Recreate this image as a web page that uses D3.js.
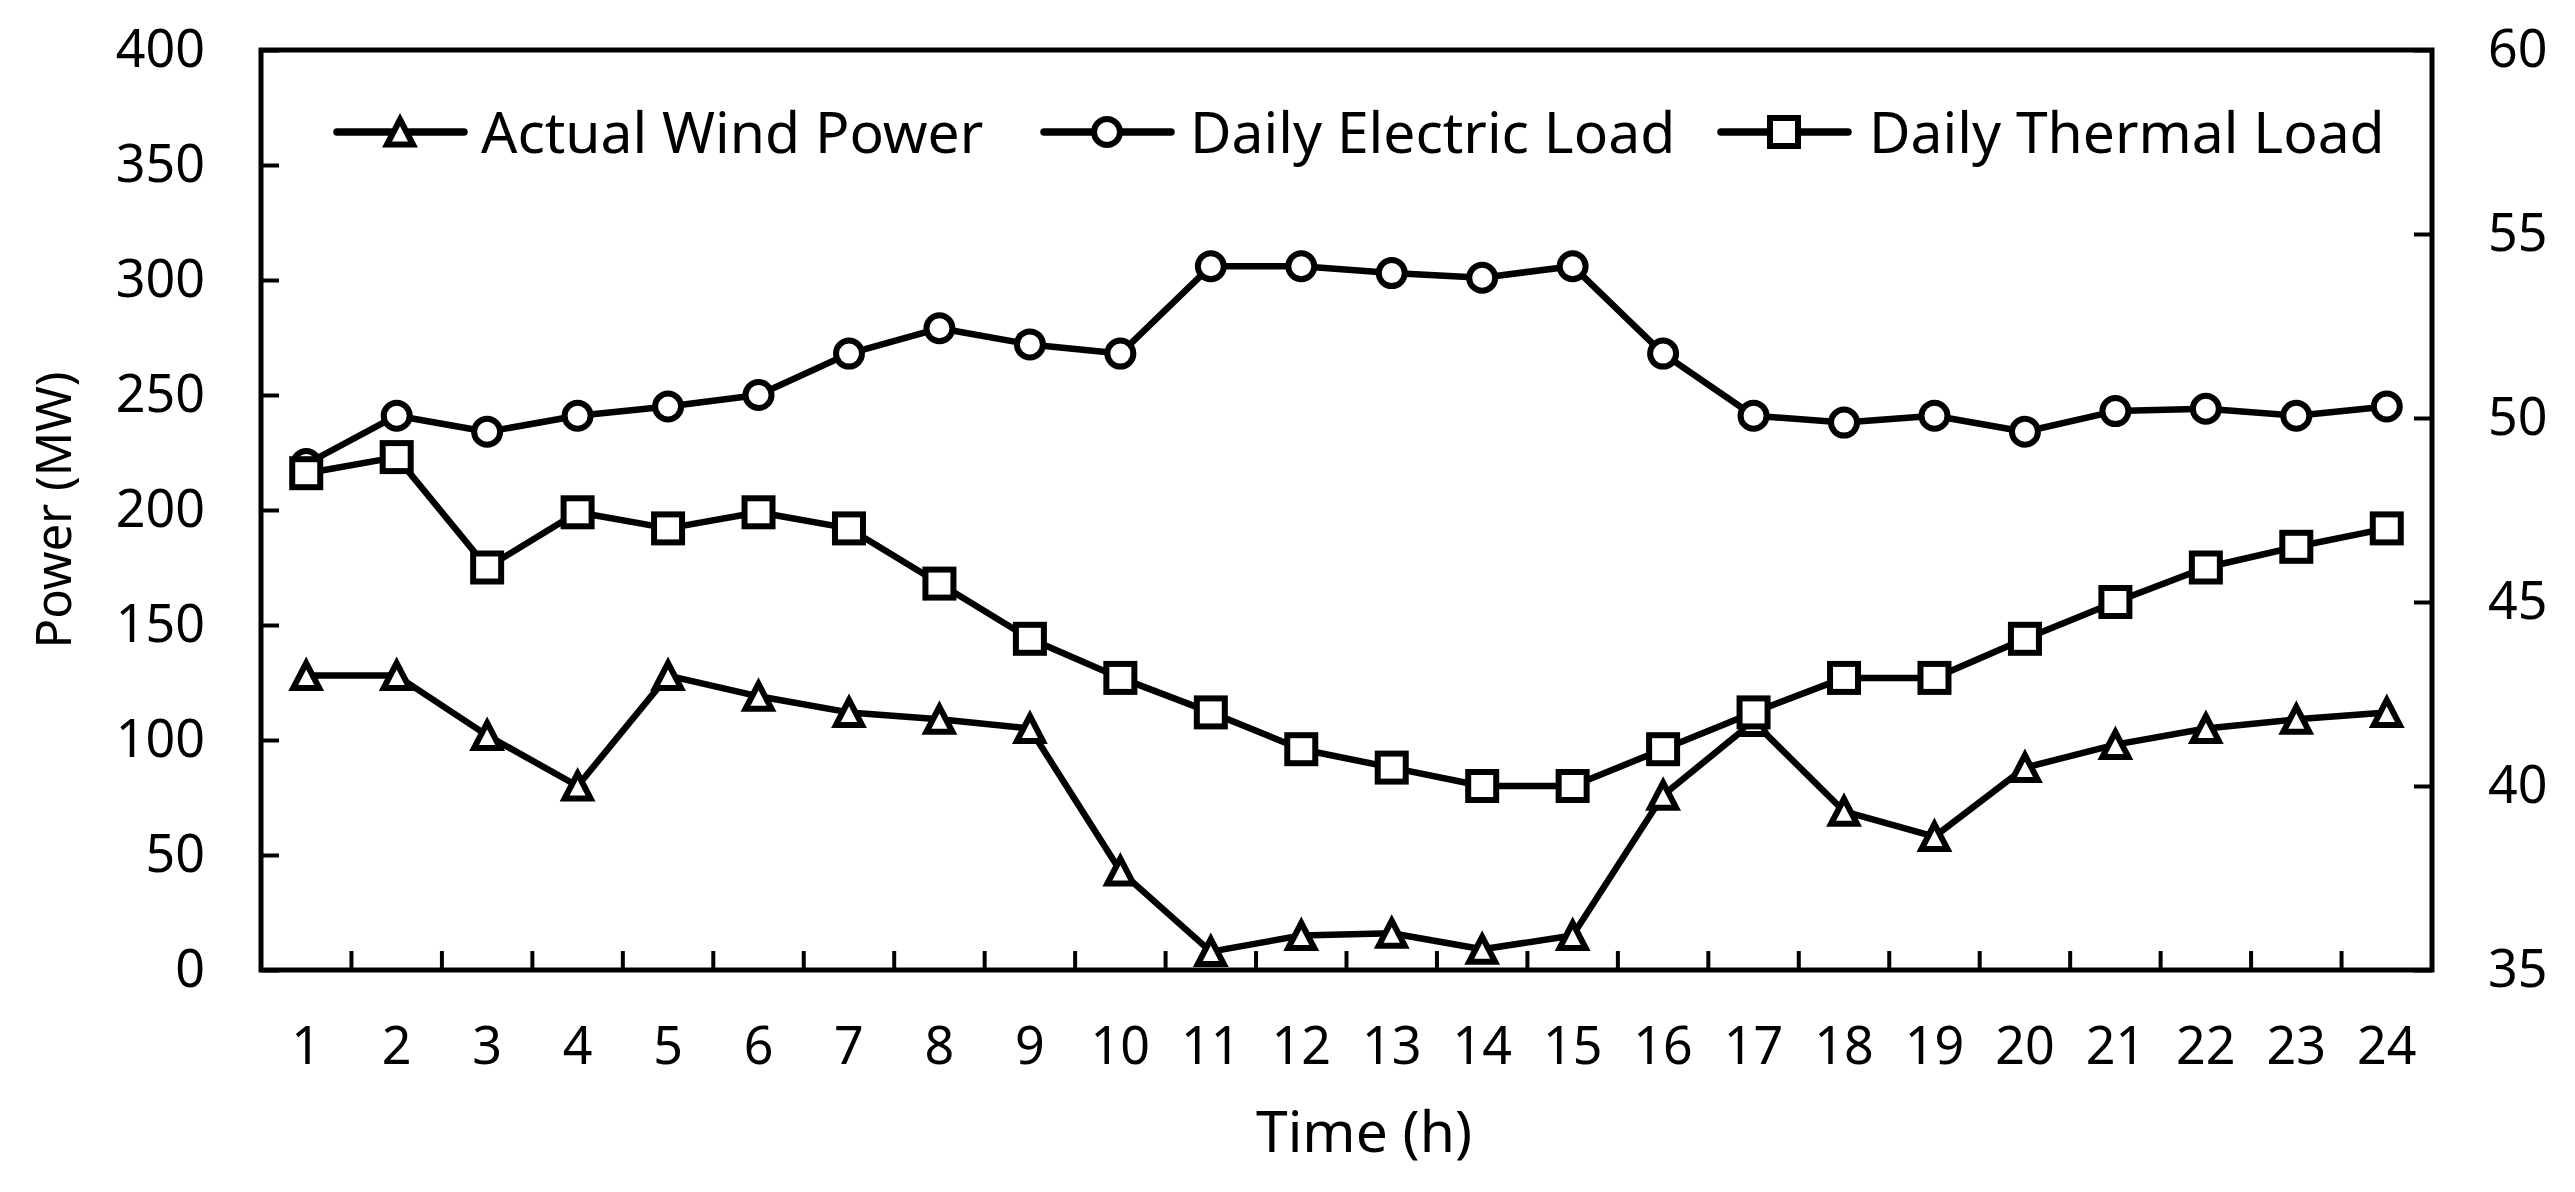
<!DOCTYPE html>
<html>
<head>
<meta charset="utf-8">
<script src="https://cdn.jsdelivr.net/npm/d3@7"></script>
<style>
  html, body { margin: 0; padding: 0; background: #fff; }
  svg { display: block; }
  text { font-family: "Noto Sans", sans-serif; fill: #000; }
</style>
</head>
<body>
<svg id="svg"></svg>
<script>
/**
 * CONSTANTS AND GLOBALS
 * */
const width = 2575,
  height = 1192,
  margin = { top: 50, bottom: 222, left: 261, right: 143 };

// hours on the x axis
const hours = [1, 2, 3, 4, 5, 6, 7, 8, 9, 10, 11, 12,
  13, 14, 15, 16, 17, 18, 19, 20, 21, 22, 23, 24];

// series values (MW)
const windPower = [128, 128, 102, 80, 128, 119, 112, 109, 105, 43, 8, 15,
  16, 9, 15, 76, 108, 69, 58, 88, 98, 105, 109, 112];
const electricLoad = [220, 241, 234, 241, 245, 250, 268, 279, 272, 268, 306, 306,
  303, 301, 306, 268, 241, 238, 241, 234, 243, 244, 241, 245];
const thermalLoad = [216, 223, 175, 199, 192, 199, 192, 168, 144, 127, 112, 96,
  88, 80, 80, 96, 112, 127, 127, 144, 160, 175, 184, 192];

// tick labels
const leftTicks = [0, 50, 100, 150, 200, 250, 300, 350, 400];
const rightTicks = [35, 40, 45, 50, 55, 60];

const seriesNames = ["Actual Wind Power", "Daily Electric Load", "Daily Thermal Load"];
const seriesMarkers = ["triangle", "circle", "square"];

/**
 * SCALES
 * */
const plotLeft = margin.left,
  plotRight = width - margin.right,
  plotTop = margin.top,
  plotBottom = height - margin.bottom;

const xScale = d3.scaleBand()
  .domain(hours)
  .range([plotLeft, plotRight])
  .padding(0);

const yScale = d3.scaleLinear()
  .domain([0, 400])
  .range([plotBottom, plotTop]);

const yRight = d3.scaleLinear()
  .domain([35, 60])
  .range([plotBottom, plotTop]);

const xMid = d => xScale(d) + xScale.bandwidth() / 2;

/**
 * DRAW
 * */
const svg = d3.select("#svg")
  .attr("width", width)
  .attr("height", height);

// left axis, ticks pointing into the plot
const leftAxis = svg.append("g")
  .attr("transform", `translate(${plotLeft},0)`)
  .call(d3.axisLeft(yScale).tickValues(leftTicks).tickSizeInner(-18).tickSizeOuter(0).tickPadding(56));

// right axis, ticks pointing into the plot
const rightAxis = svg.append("g")
  .attr("transform", `translate(${plotRight},0)`)
  .call(d3.axisRight(yRight).tickValues(rightTicks).tickSizeInner(-18).tickSizeOuter(0).tickPadding(56));

// bottom labels at band centres
const bottomAxis = svg.append("g")
  .attr("transform", `translate(0,${plotBottom})`)
  .call(d3.axisBottom(xScale).tickSize(0).tickPadding(57));

[leftAxis, rightAxis, bottomAxis].forEach(g => {
  g.select(".domain").remove();
  g.selectAll(".tick line").attr("stroke", "#000").attr("stroke-width", 4);
  g.selectAll(".tick text")
    .style("font-family", "'Noto Sans', sans-serif")
    .style("font-size", "52px")
    .attr("fill", "#000");
});

// x ticks at the band boundaries, pointing up
svg.append("g")
  .selectAll("line")
  .data(hours.slice(1))
  .join("line")
  .attr("x1", d => xScale(d))
  .attr("x2", d => xScale(d))
  .attr("y1", plotBottom)
  .attr("y2", plotBottom - 19)
  .attr("stroke", "#000")
  .attr("stroke-width", 4);

// plot frame
svg.append("rect")
  .attr("x", plotLeft)
  .attr("y", plotTop)
  .attr("width", plotRight - plotLeft)
  .attr("height", plotBottom - plotTop)
  .attr("fill", "none")
  .attr("stroke", "#000")
  .attr("stroke-width", 5);

// axis titles
svg.append("text")
  .attr("transform", `translate(71,${(plotTop + plotBottom) / 2}) rotate(-90)`)
  .attr("text-anchor", "middle")
  .style("font-size", "49px")
  .text("Power (MW)");

svg.append("text")
  .attr("x", 1364)
  .attr("y", 1152)
  .attr("text-anchor", "middle")
  .style("font-size", "57px")
  .text("Time (h)");

// marker shapes
function drawMarker(sel, kind) {
  if (kind === "circle") {
    sel.append("circle").attr("r", 13);
  } else if (kind === "square") {
    sel.append("rect").attr("x", -14).attr("y", -14).attr("width", 28).attr("height", 28);
  } else {
    sel.append("path").attr("d", "M0,-12.5L13,12.5L-13,12.5Z");
  }
  sel.selectAll("circle, rect, path")
    .attr("fill", "#fff")
    .attr("stroke", "#000")
    .attr("stroke-width", 6)
    .attr("stroke-linejoin", "miter");
}

const line = d3.line()
  .x(d => xMid(d.hour))
  .y(d => yScale(d.value));

const seriesValues = [windPower, electricLoad, thermalLoad];

seriesValues.forEach((values, i) => {
  const points = hours.map((h, j) => ({ hour: h, value: values[j] }));
  const g = svg.append("g").attr("class", "series");

  g.append("path")
    .datum(points)
    .attr("d", line)
    .attr("fill", "none")
    .attr("stroke", "#000")
    .attr("stroke-width", 6.5)
    .attr("stroke-linejoin", "round");

  g.selectAll("g.marker")
    .data(points)
    .join("g")
    .attr("class", "marker")
    .attr("transform", d => `translate(${xMid(d.hour)},${yScale(d.value)})`)
    .each(function() { drawMarker(d3.select(this), seriesMarkers[i]); });
});

// legend
const legendX = [333, 1040, 1717];
const legend = svg.append("g")
  .selectAll("g")
  .data(seriesNames)
  .join("g")
  .attr("transform", (d, i) => `translate(${legendX[i]},132)`);

legend.append("line")
  .attr("x1", 4)
  .attr("x2", 131)
  .attr("stroke", "#000")
  .attr("stroke-width", 7.5)
  .attr("stroke-linecap", "round");

legend.append("g")
  .attr("transform", "translate(67,0)")
  .each(function(d, i) { drawMarker(d3.select(this), seriesMarkers[i]); });

legend.append("text")
  .attr("x", (d, i) => [148, 150, 152][i])
  .attr("y", 21)
  .style("font-size", "57px")
  .text(d => d);
</script>
</body>
</html>
